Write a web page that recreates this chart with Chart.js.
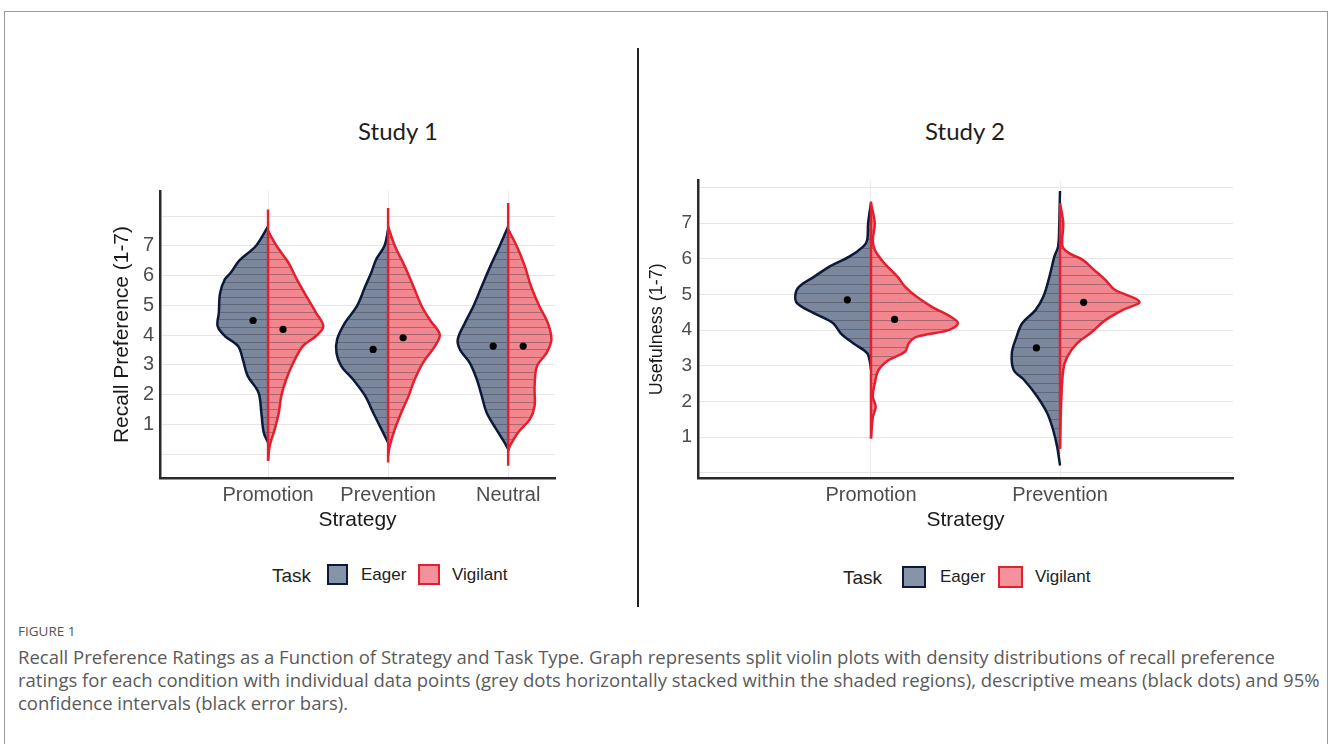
<!DOCTYPE html>
<html>
<head>
<meta charset="utf-8">
<script src="https://cdn.jsdelivr.net/npm/chart.js@4.4.1/dist/chart.umd.min.js"></script>
<style>
  body { margin: 0; background: #fff; width: 1333px; height: 744px; overflow: hidden; position: relative; font-family: "Liberation Sans", Arial, sans-serif; }
  .frame { position: absolute; left: 4px; top: 11px; width: 1324px; height: 760px; border: 1px solid #9a9a9a; box-sizing: border-box; }
  .divider { position: absolute; left: 637px; top: 48px; width: 2px; height: 559px; background: #222; }
  canvas { position: absolute; }
  .study { position: absolute; font-family: Lato, "Open Sans", sans-serif; font-size: 24px; color: #1e1e1e; transform: translate(-50%, -50%); white-space: nowrap; }
  .leg { position: absolute; white-space: nowrap; color: #222; transform: translateY(-50%); }
  .box { position: absolute; box-sizing: border-box; border: 2.5px solid; }
  .figno { position: absolute; left: 18px; top: 623px; line-height: 16px; font-family: "Open Sans", sans-serif; font-size: 13.5px; color: #555; }
  .cap { position: absolute; left: 18px; line-height: 23px; font-family: "Open Sans", sans-serif; font-size: 18.5px; color: #5a5a5a; white-space: nowrap; }
</style>
</head>
<body>
<div class="frame"></div>
<div class="divider"></div>

<div class="study" style="left:398px; top:130px;">Study 1</div>
<div class="study" style="left:965px; top:130px;">Study 2</div>

<canvas id="study1" width="462" height="362" style="left:100px; top:173px;"></canvas>
<canvas id="study2" width="600" height="372" style="left:640px; top:163px;"></canvas>

<div class="leg" style="left:272px; top:576px; font-size:19px;">Task</div>
<div class="box" style="left:327px; top:564px; width:21px; height:21px; border-color:#0b1a3a; background:#8793a8;"></div>
<div class="leg" style="left:361px; top:575px; font-size:17px;">Eager</div>
<div class="box" style="left:418px; top:564px; width:22px; height:21px; border-color:#e3202f; background:#f4929c;"></div>
<div class="leg" style="left:452px; top:575px; font-size:17px;">Vigilant</div>

<div class="leg" style="left:843px; top:578px; font-size:19px;">Task</div>
<div class="box" style="left:902px; top:566px; width:24px; height:22px; border-color:#0b1a3a; background:#8793a8;"></div>
<div class="leg" style="left:940px; top:577px; font-size:17px;">Eager</div>
<div class="box" style="left:998px; top:566px; width:25px; height:22px; border-color:#e3202f; background:#f4929c;"></div>
<div class="leg" style="left:1035px; top:577px; font-size:17px;">Vigilant</div>

<div class="figno">FIGURE 1</div>
<div class="cap" style="top:645px;">Recall Preference Ratings as a Function of Strategy and Task Type. Graph represents split violin plots with density distributions of recall preference</div>
<div class="cap" style="top:668px;">ratings for each condition with individual data points (grey dots horizontally stacked within the shaded regions), descriptive means (black dots) and 95%</div>
<div class="cap" style="top:691px;">confidence intervals (black error bars).</div>

<script>
// Study 1 - density outlines as [rating, half width in category units]
const s1Categories = ["Promotion", "Prevention", "Neutral"];
const s1PromotionEager = [[7.65, 0], [7.0, 0.10], [6.5, 0.24], [6.1, 0.31], [5.87, 0.36], [5.4, 0.40], [4.75, 0.41], [4.3, 0.42], [3.97, 0.36], [3.63, 0.25], [3.18, 0.21], [2.63, 0.17], [2.07, 0.08], [1.4, 0.056], [0.73, 0.036], [0.39, 0]];
const s1PromotionVigilant = [[7.5, 0], [7.0, 0.07], [6.43, 0.17], [5.87, 0.24], [5.3, 0.32], [4.75, 0.40], [4.3, 0.46], [3.97, 0.40], [3.63, 0.29], [3.07, 0.21], [2.5, 0.15], [1.95, 0.11], [1.4, 0.09], [0.84, 0.056], [0.28, 0.014], [-0.22, 0]];
const s1PreventionEager = [[7.55, 0], [7.0, 0.03], [6.54, 0.10], [6.1, 0.14], [5.64, 0.19], [4.97, 0.26], [4.41, 0.36], [3.85, 0.425], [3.4, 0.43], [2.96, 0.39], [2.5, 0.29], [1.95, 0.19], [1.4, 0.125], [0.84, 0.056], [0.39, 0]];
const s1PreventionVigilant = [[7.65, 0], [7.0, 0.056], [6.3, 0.14], [5.64, 0.21], [4.97, 0.28], [4.5, 0.35], [4.02, 0.43], [3.63, 0.39], [3.07, 0.29], [2.5, 0.22], [1.95, 0.17], [1.4, 0.11], [0.84, 0.056], [0.28, 0.014], [-0.05, 0]];
const s1NeutralEager = [[7.65, 0], [7.0, 0.07], [6.3, 0.15], [5.64, 0.22], [4.97, 0.29], [4.41, 0.36], [3.85, 0.42], [3.5, 0.40], [3.07, 0.32], [2.5, 0.26], [1.95, 0.22], [1.4, 0.18], [0.84, 0.10], [0.39, 0.03], [0.17, 0]];
const s1NeutralVigilant = [[7.55, 0], [7.0, 0.07], [6.3, 0.14], [5.64, 0.19], [4.97, 0.26], [4.41, 0.33], [3.85, 0.36], [3.4, 0.32], [2.96, 0.24], [2.29, 0.22], [1.62, 0.22], [1.17, 0.18], [0.73, 0.083], [0.28, 0.014], [0.1, 0]];
const s1CentreRange = [[8.22, -0.22], [8.27, -0.28], [8.44, -0.39]];
const s1EagerMeans = [4.49, 3.52, 3.63];
const s1VigilantMeans = [4.19, 3.91, 3.63];
const s1YTicks = [0, 0.5, 1, 1.5, 2, 2.5, 3, 3.5, 4, 4.5, 5, 5.5, 6, 6.5, 7, 7.5, 8];

// Study 2
const s2Categories = ["Promotion", "Prevention"];
const s2PromotionEager = [[7.56, 0], [7.0, 0.015], [6.53, 0.02], [6.35, 0.04], [6.06, 0.115], [5.78, 0.22], [5.5, 0.30], [5.22, 0.38], [4.99, 0.40], [4.75, 0.39], [4.47, 0.30], [4.19, 0.20], [3.91, 0.16], [3.63, 0.094], [3.35, 0.02], [3.06, 0.004], [2.9, 0]];
const s2PromotionVigilant = [[7.56, 0], [7.0, 0.02], [6.53, 0.01], [6.25, 0.02], [5.88, 0.07], [5.5, 0.14], [5.22, 0.18], [4.94, 0.24], [4.66, 0.32], [4.38, 0.42], [4.19, 0.46], [4.0, 0.41], [3.81, 0.24], [3.63, 0.20], [3.39, 0.18], [3.16, 0.094], [2.88, 0.04], [2.5, 0.02], [2.13, 0.01], [1.85, 0.025], [1.56, 0.01], [0.96, 0]];
const s2PreventionEager = [[7.9, 0], [7.0, 0.004], [6.35, 0.01], [6.06, 0.03], [5.5, 0.056], [4.94, 0.088], [4.56, 0.13], [4.19, 0.20], [3.81, 0.23], [3.35, 0.255], [2.88, 0.245], [2.6, 0.19], [2.13, 0.12], [1.66, 0.067], [1.19, 0.036], [0.72, 0.015], [0.2, 0]];
const s2PreventionVigilant = [[7.56, 0], [7.0, 0.017], [6.35, 0.013], [6.16, 0.048], [5.97, 0.12], [5.69, 0.18], [5.41, 0.24], [5.13, 0.29], [4.8, 0.42], [4.56, 0.33], [4.28, 0.24], [3.91, 0.16], [3.63, 0.09], [3.25, 0.038], [2.88, 0.017], [1.94, 0.006], [0.67, 0]];
const s2CentreRange = [[7.61, 0.96], [7.56, 0.67]];
const s2EagerMeans = [4.85, 3.5];
const s2VigilantMeans = [4.30, 4.78];
const s2YTicks = [0, 0.5, 1, 1.5, 2, 2.5, 3, 3.5, 4, 4.5, 5, 5.5, 6, 6.5, 7, 7.5, 8];

const meanOffset = 0.125;
const eagerLine = "#0b1a3a", eagerFill = "#7b879d";
const vigilantLine = "#e3202f", vigilantFill = "#f2878f";

// horizontal stripes (stacked data points) inside the shaded violins
const patternCache = {};
function stripedFill(base) {
    return function (ctx) {
        const chart = ctx.chart;
        const y = chart.scales && chart.scales.y;
        if (!y || y.top === undefined || !isFinite(y.getPixelForValue(0))) return base;
        const zero = y.getPixelForValue(0);
        const unit = Math.abs(zero - y.getPixelForValue(1));
        const key = chart.id + base + unit.toFixed(2);
        if (patternCache[key]) return patternCache[key];
        const h = Math.max(4, Math.round(unit));
        const c = document.createElement("canvas");
        c.width = 4; c.height = h;
        const g = c.getContext("2d");
        g.fillStyle = base;
        g.fillRect(0, 0, 4, h);
        g.fillStyle = "rgba(50, 52, 62, 0.38)";
        for (let k = 0; k < 4; k++) g.fillRect(0, Math.round(k * h / 4), 4, 1);
        const p = chart.ctx.createPattern(c, "repeat");
        p.setTransform(new DOMMatrix().translate(0, Math.round(zero)));
        patternCache[key] = p;
        return p;
    };
}

function halfViolin(profile, centre, side) {
    return profile.map(([v, w]) => ({ x: centre + side * w, y: v }));
}

function buildDatasets(categories, eagerProfiles, vigilantProfiles, centreRange, eagerMeans, vigilantMeans) {
    const sets = [];
    categories.forEach((cat, i) => {
        const c = i + 1;
        sets.push({
            label: cat + " Eager",
            data: halfViolin(eagerProfiles[i], c, -1),
            borderColor: eagerLine,
            borderWidth: 2.5,
            backgroundColor: stripedFill(eagerFill),
            fill: "shape",
            tension: 0.35,
            pointRadius: 0,
            clip: 8,
            order: 4
        });
        sets.push({
            label: cat + " Vigilant",
            data: halfViolin(vigilantProfiles[i], c, 1),
            borderColor: vigilantLine,
            borderWidth: 2.5,
            backgroundColor: stripedFill(vigilantFill),
            fill: "shape",
            tension: 0.35,
            pointRadius: 0,
            clip: 8,
            order: 3
        });
        sets.push({
            label: cat + " centre",
            data: [{ x: c, y: centreRange[i][0] }, { x: c, y: centreRange[i][1] }],
            borderColor: vigilantLine,
            borderWidth: 2.5,
            fill: false,
            pointRadius: 0,
            order: 2
        });
    });
    sets.push({
        label: "Means",
        data: categories.flatMap((cat, i) => [
            { x: i + 1 - meanOffset, y: eagerMeans[i] },
            { x: i + 1 + meanOffset, y: vigilantMeans[i] }
        ]),
        showLine: false,
        pointRadius: 3.6,
        pointBackgroundColor: "#000",
        pointBorderWidth: 0,
        order: 1
    });
    return sets;
}

function renderStudy(canvasId, cfg) {
    const ctx = document.getElementById(canvasId).getContext("2d");
    new Chart(ctx, {
        type: "line",
        data: {
            datasets: buildDatasets(cfg.categories, cfg.eager, cfg.vigilant, cfg.centre, cfg.eagerMeans, cfg.vigilantMeans)
        },
        options: {
            responsive: false,
            animation: false,
            layout: { padding: { top: 3, right: cfg.padRight, bottom: 0, left: 0 } },
            plugins: {
                legend: { display: false },
                tooltip: { enabled: false },
                title: { display: false }
            },
            scales: {
                x: {
                    type: "linear",
                    min: cfg.xMin,
                    max: cfg.xMax,
                    afterBuildTicks: (scale) => {
                        scale.ticks = cfg.categories.map((c, i) => ({ value: i + 1 }));
                    },
                    afterFit: (scale) => { scale.height = 57; },
                    ticks: {
                        padding: 5,
                        color: "#4d4d4d",
                        font: { family: "Liberation Sans", size: 20 },
                        callback: (value) => cfg.categories[value - 1] || ""
                    },
                    grid: { color: "#ececec", lineWidth: 1, drawTicks: false },
                    border: { color: "#2a2a2a", width: 2.5 },
                    title: {
                        display: true,
                        text: "Strategy",
                        color: "#1a1a1a",
                        font: { family: "Liberation Sans", size: 21 },
                        padding: { top: 0, bottom: 2 }
                    }
                },
                y: {
                    type: "linear",
                    min: cfg.yMin,
                    max: cfg.yMax,
                    afterBuildTicks: (scale) => {
                        scale.ticks = cfg.yTicks.map((v) => ({ value: v }));
                    },
                    afterFit: (scale) => { scale.width = cfg.yWidth; },
                    ticks: {
                        padding: 6,
                        color: "#4d4d4d",
                        font: { family: "Liberation Sans", size: cfg.tickSize },
                        callback: (value) => (Number.isInteger(value) && value >= 1 && value <= 7 ? String(value) : "")
                    },
                    grid: { color: "#e6e6e6", lineWidth: 1, drawTicks: false },
                    border: { color: "#2a2a2a", width: 2.5 },
                    title: {
                        display: true,
                        text: cfg.yTitle,
                        color: "#1a1a1a",
                        font: { family: "Liberation Sans", size: cfg.yTitleSize },
                        padding: { top: cfg.yTitlePad, bottom: 0 }
                    }
                }
            }
        }
    });
}

renderStudy("study1", {
    categories: s1Categories,
    eager: [s1PromotionEager, s1PreventionEager, s1NeutralEager],
    vigilant: [s1PromotionVigilant, s1PreventionVigilant, s1NeutralVigilant],
    centre: s1CentreRange,
    eagerMeans: s1EagerMeans,
    vigilantMeans: s1VigilantMeans,
    yTicks: s1YTicks,
    xMin: 0.1, xMax: 3.39,
    yMin: -0.8, yMax: 8.84,
    yWidth: 60, padRight: 7,
    tickSize: 20, yTitle: "Recall Preference (1-7)", yTitleSize: 21, yTitlePad: 10
});

renderStudy("study2", {
    categories: s2Categories,
    eager: [s2PromotionEager, s2PreventionEager],
    vigilant: [s2PromotionVigilant, s2PreventionVigilant],
    centre: s2CentreRange,
    eagerMeans: s2EagerMeans,
    vigilantMeans: s2VigilantMeans,
    yTicks: s2YTicks,
    xMin: 0.085, xMax: 2.915,
    yMin: -0.15, yMax: 8.2,
    yWidth: 58, padRight: 7,
    tickSize: 19, yTitle: "Usefulness (1-7)", yTitleSize: 18, yTitlePad: 6
});
</script>
</body>
</html>
